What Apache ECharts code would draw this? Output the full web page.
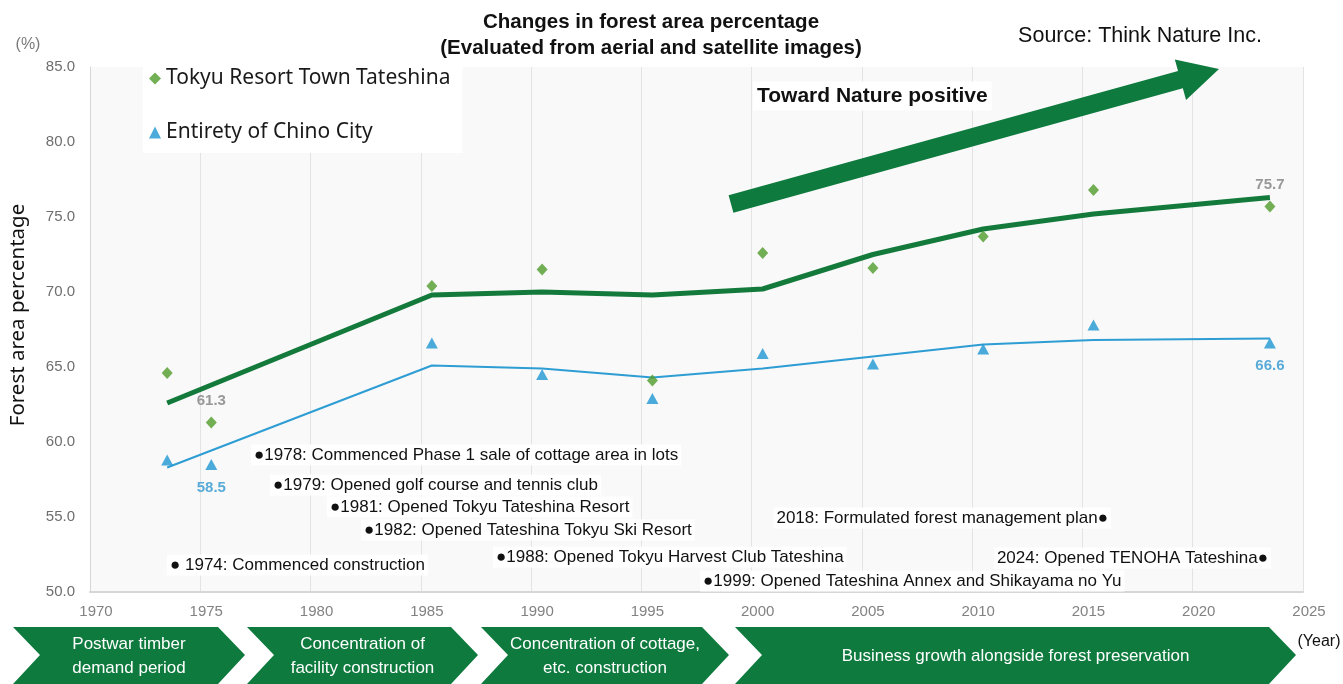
<!DOCTYPE html>
<html>
<head>
<meta charset="utf-8">
<title>Changes in forest area percentage</title>
<script src="https://cdn.jsdelivr.net/npm/echarts/dist/echarts.min.js"></script>
<style>
  html, body { margin: 0; padding: 0; background: #fff; }
  #chart { width: 1343px; height: 684px; }
</style>
</head>
<body>
<div id="chart"></div>
<script>
// survey years (points sit mid-year) and forest area percentages
const years = [1973.5, 1975.5, 1985.5, 1990.5, 1995.5, 2000.5, 2005.5, 2010.5, 2015.5, 2023.5];
const tokyuValues = [64.6, 61.3, 70.4, 71.5, 64.1, 72.6, 71.6, 73.7, 76.8, 75.7];
const chinoValues = [58.8, 58.5, 66.6, 64.5, 62.9, 65.9, 65.2, 66.2, 67.8, 66.6];
// smoothed trend lines
const trendYears = [1973.5, 1985.5, 1990.5, 1995.5, 2000.5, 2005.5, 2010.5, 2015.5, 2023.5];
const tokyuTrend = [62.6, 69.8, 70.0, 69.8, 70.2, 72.5, 74.2, 75.2, 76.3];
const chinoTrend = [58.3, 65.1, 64.9, 64.3, 64.9, 65.7, 66.5, 66.8, 66.9];
const labeledIdx = [1, 9];

const seriesNames = ['Tokyu Resort Town Tateshina', 'Entirety of Chino City'];
const events = [
  '●1978: Commenced Phase 1 sale of cottage area in lots',
  '●1979: Opened golf course and tennis club',
  '●1981: Opened Tokyu Tateshina Resort',
  '●1982: Opened Tateshina Tokyu Ski Resort',
  '● 1974: Commenced construction',
  '●1988: Opened Tokyu Harvest Club Tateshina',
  '●1999: Opened Tateshina Annex and Shikayama no Yu',
  '2018: Formulated forest management plan●',
  '2024: Opened TENOHA Tateshina●'
];
const phases = [
  'Postwar timber\ndemand period',
  'Concentration of\nfacility construction',
  'Concentration of cottage,\netc. construction',
  'Business growth alongside forest preservation'
];

const SANS = '"Liberation Sans", Arial, sans-serif';
const GREEN = '#0e7a3e';

// layout of the decorations
const eventPos = [
  [251, 455, 'left'], [270, 485, 'left'], [327, 507, 'left'], [361, 530, 'left'],
  [167, 565, 'left'], [493, 557, 'left'], [700, 581, 'left'],
  [1111, 518, 'right'], [1271, 558, 'right']
];
const chevrons = [[13, 245], [247, 478], [481, 729], [735, 1296]];

function chevronShape(l, r) {
  const top = 627, mid = 655, bot = 684, d = 27;
  return [[l, top], [r - d, top], [r, mid], [r - d, bot], [l, bot], [l + d, mid]];
}

function arrowShape(tail, tip, half, headLen, headHalf) {
  const dx = tip[0] - tail[0], dy = tip[1] - tail[1];
  const len = Math.sqrt(dx * dx + dy * dy);
  const ux = dx / len, uy = dy / len;
  const nx = -uy, ny = ux;
  const bx = tip[0] - ux * headLen, by = tip[1] - uy * headLen;
  return [
    [tail[0] + nx * half, tail[1] + ny * half],
    [bx + nx * half, by + ny * half],
    [bx + nx * headHalf, by + ny * headHalf],
    tip,
    [bx - nx * headHalf, by - ny * headHalf],
    [bx - nx * half, by - ny * half],
    [tail[0] - nx * half, tail[1] - ny * half]
  ];
}

function pointData(values, labelPos, labelColor) {
  return values.map((v, i) => {
    const item = { value: [years[i], v] };
    if (labeledIdx.includes(i)) {
      item.label = {
        show: true,
        position: labelPos,
        distance: labelPos === 'top' ? 8 : 10,
        color: labelColor,
        fontSize: 15,
        fontWeight: 'bold',
        fontFamily: SANS,
        formatter: (p) => p.value[1].toFixed(1)
      };
    }
    return item;
  });
}

const graphics = [];
chevrons.forEach((c, i) => {
  graphics.push({
    type: 'polygon',
    shape: { points: chevronShape(c[0], c[1]) },
    style: { fill: GREEN },
    silent: true
  });
  graphics.push({
    type: 'text',
    x: (c[0] + c[1]) / 2,
    y: 656,
    style: {
      text: phases[i],
      fill: '#fff',
      font: '17px ' + SANS,
      lineHeight: 24,
      textAlign: 'center',
      textVerticalAlign: 'middle'
    },
    silent: true
  });
});
events.forEach((t, i) => {
  const p = eventPos[i];
  graphics.push({
    type: 'text',
    x: p[0],
    y: p[1],
    z: 10,
    style: {
      text: t,
      fill: '#111',
      font: '17px ' + SANS,
      textAlign: p[2],
      textVerticalAlign: 'middle',
      backgroundColor: '#fff',
      padding: [2, 3]
    },
    silent: true
  });
});
graphics.push(
  {
    type: 'polygon',
    z: 5,
    shape: { points: arrowShape([731, 204], [1219, 69], 9, 40, 21) },
    style: { fill: GREEN },
    silent: true
  },
  {
    type: 'text', x: 651, y: 22,
    style: { text: 'Changes in forest area percentage', font: 'bold 20.5px ' + SANS, fill: '#111', textAlign: 'center', textVerticalAlign: 'middle' }
  },
  {
    type: 'text', x: 651, y: 48,
    style: { text: '(Evaluated from aerial and satellite images)', font: 'bold 20.5px ' + SANS, fill: '#111', textAlign: 'center', textVerticalAlign: 'middle' }
  },
  {
    type: 'text', x: 1140, y: 36,
    style: { text: 'Source: Think Nature Inc.', font: '21.5px ' + SANS, fill: '#111', textAlign: 'center', textVerticalAlign: 'middle', backgroundColor: '#fff' }
  },
  {
    type: 'text', x: 753, y: 96, z: 10,
    style: { text: 'Toward Nature positive', font: 'bold 21px ' + SANS, fill: '#111', textAlign: 'left', textVerticalAlign: 'middle', backgroundColor: '#fff', padding: [4, 4] }
  },
  {
    type: 'text', x: 28, y: 45,
    style: { text: '(%)', font: '16px ' + SANS, fill: '#7a7a7a', textAlign: 'center', textVerticalAlign: 'middle' }
  },
  {
    type: 'text', x: 18, y: 315, rotation: Math.PI / 2,
    style: { text: 'Forest area percentage', font: '20.5px "Noto Sans"', fill: '#111', textAlign: 'center', textVerticalAlign: 'middle' }
  },
  {
    type: 'text', x: 1319, y: 642,
    style: { text: '(Year)', font: '16px ' + SANS, fill: '#111', textAlign: 'center', textVerticalAlign: 'middle' }
  }
);

const chart = echarts.init(document.getElementById('chart'));
chart.setOption({
  backgroundColor: '#fff',
  animation: false,
  grid: {
    left: 90, right: 40, top: 67, bottom: 92,
    show: true, backgroundColor: '#f9f9f9', borderWidth: 0
  },
  legend: {
    data: seriesNames,
    orient: 'vertical',
    left: 143,
    top: 62,
    itemGap: 33,
    itemWidth: 12,
    itemHeight: 12,
    backgroundColor: '#fff',
    padding: [6, 12, 10, 6],
    textStyle: { fontSize: 21, fontFamily: 'Noto Sans', color: '#1a1a1a' }
  },
  xAxis: {
    type: 'value',
    min: 1970,
    max: 2025,
    interval: 5,
    axisLine: { show: true, lineStyle: { color: '#d6d6d6', width: 2 } },
    axisTick: { show: false },
    splitLine: { show: true, lineStyle: { color: '#e3e3e3', width: 1 } },
    axisLabel: {
      margin: 12,
      color: '#828282',
      fontSize: 15,
      fontFamily: SANS,
      padding: [0, 0, 0, 12],
      formatter: (v) => String(v)
    }
  },
  yAxis: {
    type: 'value',
    min: 50,
    max: 85,
    interval: 5,
    axisLine: { show: true, lineStyle: { color: '#d6d6d6' } },
    axisTick: { show: false },
    splitLine: { show: false },
    axisLabel: {
      margin: 15,
      color: '#6e6e6e',
      fontSize: 15,
      fontFamily: SANS,
      formatter: (v) => v.toFixed(1)
    }
  },
  series: [
    {
      name: 'Tokyu trend',
      type: 'line',
      data: trendYears.map((y, i) => [y, tokyuTrend[i]]),
      showSymbol: false,
      lineStyle: { color: '#137a3b', width: 5 },
      z: 2
    },
    {
      name: 'Chino trend',
      type: 'line',
      data: trendYears.map((y, i) => [y, chinoTrend[i]]),
      showSymbol: false,
      lineStyle: { color: '#2e9dd3', width: 2 },
      z: 2
    },
    {
      name: seriesNames[0],
      type: 'scatter',
      symbol: 'diamond',
      symbolSize: [11, 12],
      itemStyle: { color: '#4f9b2a' },
      data: pointData(tokyuValues, 'top', '#808080'),
      z: 3
    },
    {
      name: seriesNames[1],
      type: 'scatter',
      symbol: 'triangle',
      symbolSize: [12, 11],
      itemStyle: { color: '#1e96d2' },
      data: pointData(chinoValues, 'bottom', '#2f97cf'),
      z: 3
    }
  ],
  graphic: graphics
});
</script>
</body>
</html>
